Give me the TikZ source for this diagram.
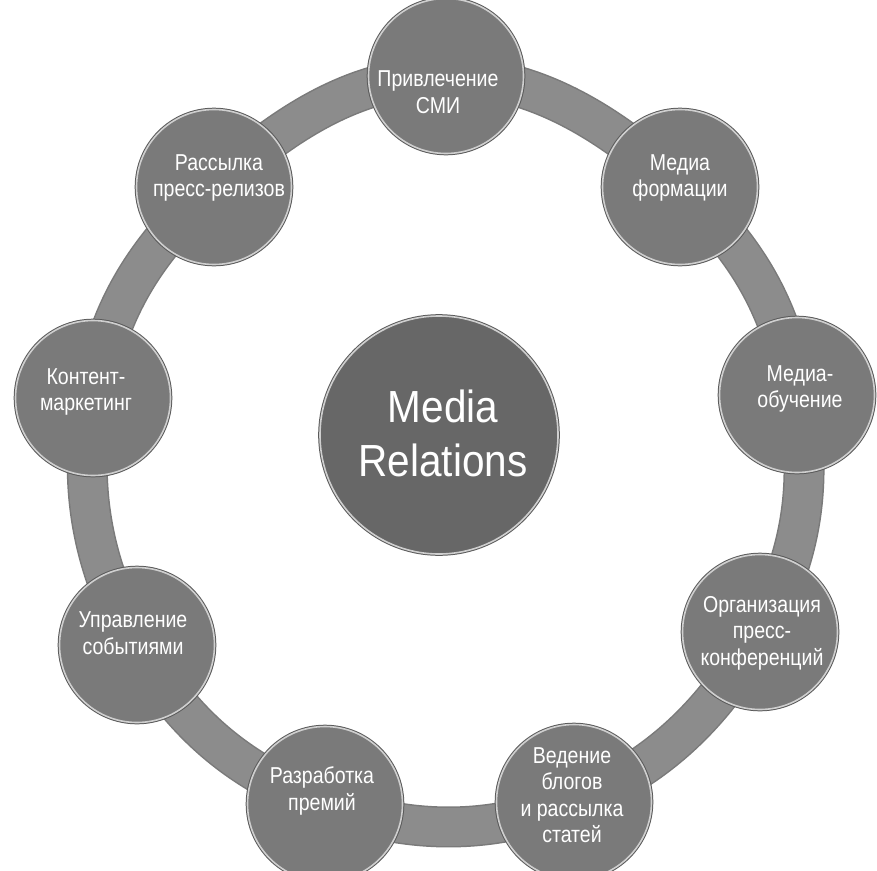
\documentclass[tikz,border=0pt]{standalone}
\usepackage{fontspec}
\setmainfont{Liberation Sans}
\newfontfamily\narrowfont[FakeStretch=0.85]{Liberation Sans}
\newfontfamily\hubfont[FakeStretch=0.9]{Liberation Sans}
\definecolor{bandcol}{HTML}{8C8C8C}
\definecolor{bandedge}{HTML}{7A7A7A}
\definecolor{bubblefill}{HTML}{7A7A7A}
\definecolor{bubblerim}{HTML}{CFCFCF}
\definecolor{bubbledark}{HTML}{5A5A5A}
\definecolor{hubfill}{HTML}{676767}
\tikzset{
  ringband/.style={line width=38pt, draw=bandcol},
  ringedge/.style={line width=41pt, draw=bandedge},
  bubble/.style={circle, minimum size=155pt, inner sep=0pt, fill=bubblefill,
    draw=bubblerim, line width=1.6pt,
    preaction={draw=bubbledark, line width=3.6pt}},
  hub/.style={circle, minimum size=238pt, inner sep=0pt, fill=hubfill,
    draw=bubblerim, line width=1.6pt,
    preaction={draw=bubbledark, line width=3.6pt}},
  txt/.style={text=white, font=\narrowfont\fontsize{23}{26.5}\selectfont, align=center, inner sep=0pt},
  hubtxt/.style={text=white, font=\hubfont\fontsize{45}{54}\selectfont, align=center, inner sep=0pt}
}
\begin{document}
\begin{tikzpicture}[x=1pt, y=-1pt]
\useasboundingbox (0,0) rectangle (877,870);
\fill[white] (0,0) rectangle (877,870);
% ring path through bubble centres
\coordinate (p1) at (446,76);
\coordinate (p2) at (680,187);
\coordinate (p3) at (797,395);
\coordinate (p4) at (760,632);
\coordinate (p5) at (574,802);
\coordinate (p6) at (325,804);
\coordinate (p7) at (137,645);
\coordinate (p8) at (93,398);
\coordinate (p9) at (214,187);
\draw[ringedge] plot[smooth cycle, tension=0.7] coordinates {(p1) (p2) (p3) (p4) (p5) (p6) (p7) (p8) (p9)};
\draw[ringband] plot[smooth cycle, tension=0.7] coordinates {(p1) (p2) (p3) (p4) (p5) (p6) (p7) (p8) (p9)};
% bubbles
\node[bubble] (b1) at (p1) {};
\node[bubble] (b2) at (p2) {};
\node[bubble] (b3) at (p3) {};
\node[bubble] (b4) at (p4) {};
\node[bubble] (b5) at (p5) {};
\node[bubble] (b6) at (p6) {};
\node[bubble] (b7) at (p7) {};
\node[bubble] (b8) at (p8) {};
\node[bubble] (b9) at (p9) {};
\node[hub] (hub) at (439,435) {};
% labels
\node[txt] (t1) at (438,92) {Привлечение\\СМИ};
\node[txt] (t2) at (680,178) {Медиа\\формации};
\node[txt] (t3) at (800,389) {Медиа-\\обучение};
\node[txt] (t4) at (762,633) {Организация\\пресс-\\конференций};
\node[txt] (t5) at (572,795) {Ведение\\блогов\\и рассылка\\статей};
\node[txt] (t6) at (322,791) {Разработка\\премий};
\node[txt] (t7) at (133,633) {Управление\\событиями};
\node[txt] (t8) at (86,392) {Контент-\\маркетинг};
\node[txt] (t9) at (219,178) {Рассылка\\пресс-релизов};
\node[hubtxt] (th) at (443,433) {Media\\Relations};
\end{tikzpicture}
\end{document}
